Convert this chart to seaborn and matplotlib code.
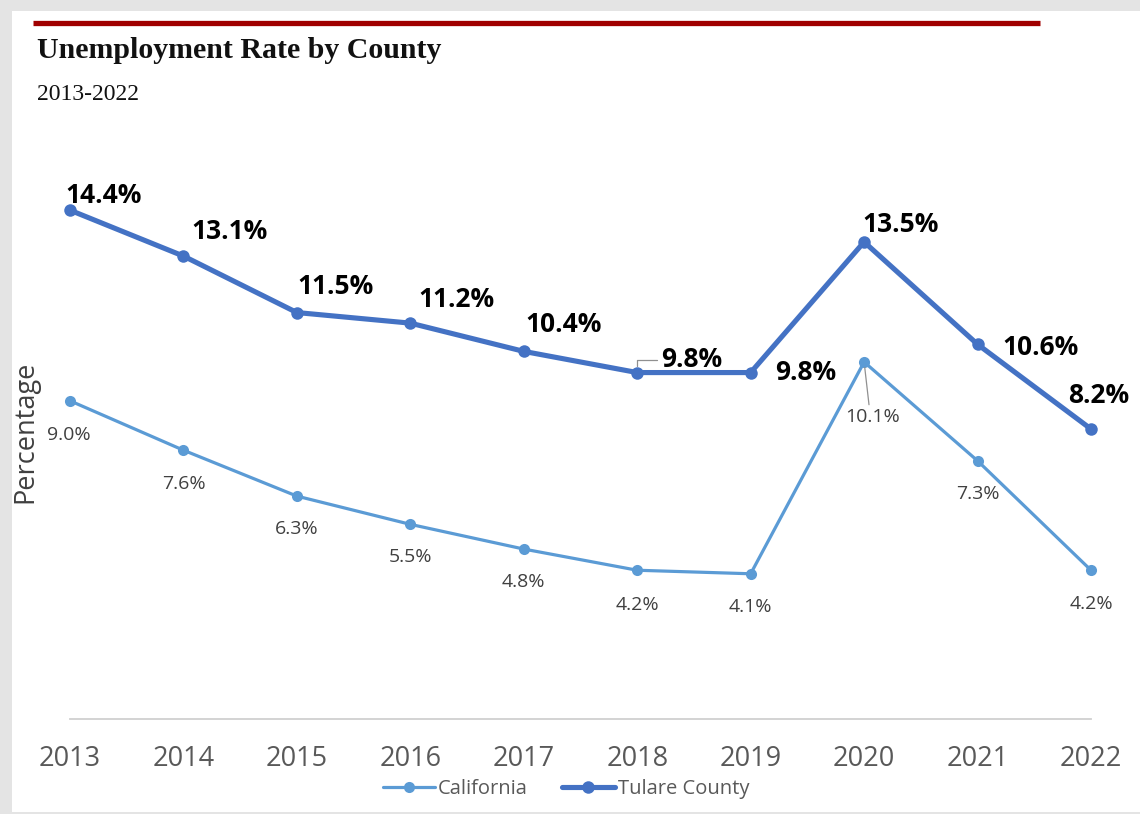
import matplotlib
matplotlib.use("Agg")
import matplotlib.pyplot as plt
import seaborn as sns
import pandas as pd
from matplotlib.patches import Rectangle
from matplotlib.lines import Line2D

years = [2013, 2014, 2015, 2016, 2017, 2018, 2019, 2020, 2021, 2022]
california = [9.0, 7.6, 6.3, 5.5, 4.8, 4.2, 4.1, 10.1, 7.3, 4.2]
tulare = [14.4, 13.1, 11.5, 11.2, 10.4, 9.8, 9.8, 13.5, 10.6, 8.2]
title = "Unemployment Rate by County"
subtitle = "2013-2022"

# label offsets in pixels (layout only)
tul_off = [(34, 15), (46, 25), (39, 26), (46, 24), (40, 27), (54, 13), (55, 0), (36, 17), (63, -3), (8, 34)]
cal_off = [(-1, -34), (0, -34), (0, -33), (0, -33), (0, -33), (0, -35), (0, -33), (8, -55), (0, -33), (0, -34)]

sns.set_theme(style="white")
plt.rcParams['font.family'] = ['Open Sans', 'DejaVu Sans']

W, H = 1140, 814
fig = plt.figure(figsize=(W / 100, H / 100), dpi=100)
fig.patch.set_facecolor('#E4E4E4')
bg = Rectangle((12 / W, 1 - 812 / H), (1140 - 12) / W, (812 - 11) / H,
               transform=fig.transFigure, facecolor='white', edgecolor='none', zorder=-10)
fig.patches.append(bg)
# dark red rule
fig.lines.append(Line2D([33 / W, 1040 / W], [1 - 23 / H, 1 - 23 / H], transform=fig.transFigure,
                        color='#A00000', lw=3.8, solid_capstyle='butt', zorder=-5))

ax_left, ax_right = 70 / W, 1091 / W
y0 = 718.5
ppu = 35.3
ymax = 16
ax = fig.add_axes([ax_left, 1 - y0 / H, ax_right - ax_left, ymax * ppu / H])
ax.set_facecolor('none')
ax.patch.set_alpha(0)

df = pd.DataFrame({
    'Year': years * 2,
    'Rate': california + tulare,
    'Series': ['California'] * len(years) + ['Tulare County'] * len(years),
})
cal_color = '#5B9BD5'
tul_color = '#4472C4'
sns.lineplot(data=df[df.Series == 'California'], x='Year', y='Rate', ax=ax, color=cal_color,
             lw=2.3, marker='o', markersize=8, markeredgewidth=0, clip_on=False, legend=False)
sns.lineplot(data=df[df.Series == 'Tulare County'], x='Year', y='Rate', ax=ax, color=tul_color,
             lw=3.7, marker='o', markersize=9, markeredgewidth=0, clip_on=False, legend=False)

ax.set_xlim(years[0], years[-1])
ax.set_ylim(0, ymax)
ax.set_xticks(years)
ax.set_xticklabels([str(y) for y in years], fontsize=19.5, color='#595959')
ax.tick_params(axis='x', length=0, pad=19)
ax.set_yticks([])
ax.set_xlabel('')
ax.set_ylabel('')
for s in ['left', 'right', 'top']:
    ax.spines[s].set_visible(False)
ax.spines['bottom'].set_color('#D0D0D0')
ax.spines['bottom'].set_linewidth(1.3)

for i, (x, v) in enumerate(zip(years, tulare)):
    dx, dy = tul_off[i]
    kw = {}
    if i == 5:
        kw['arrowprops'] = dict(arrowstyle='-', color='#909090', lw=0.9, shrinkA=0, shrinkB=5,
                                connectionstyle='angle,angleA=0,angleB=90,rad=0',
                                relpos=(0, 0.5))
    ax.annotate(f"{v:.1f}%", (x, v), xytext=(dx, dy), textcoords='offset pixels',
                ha='center', va='center', fontsize=19, fontweight='bold', color='black',
                annotation_clip=False, **kw)

for i, (x, v) in enumerate(zip(years, california)):
    dx, dy = cal_off[i]
    kw = {}
    if i == 7:
        kw['arrowprops'] = dict(arrowstyle='-', color='#909090', lw=0.9, shrinkA=0, shrinkB=4,
                                relpos=(0.45, 1.0))
    ax.annotate(f"{v:.1f}%", (x, v), xytext=(dx, dy), textcoords='offset pixels',
                ha='center', va='center', fontsize=14, color='#404040',
                annotation_clip=False, **kw)

fig.text(37 / W, 1 - 58 / H, title, family='Liberation Serif', fontweight='bold',
         fontsize=21.5, color='#111111', va='baseline', ha='left')
fig.text(37 / W, 1 - 100 / H, subtitle, family='Liberation Serif', fontsize=17,
         color='#111111', va='baseline', ha='left')
fig.text(25 / W, 1 - 432 / H, 'Percentage', rotation=90, fontsize=19.5, color='#404040',
         ha='center', va='center')

handles = [Line2D([], [], color=cal_color, lw=2.3, marker='o', markersize=8, markeredgewidth=0),
           Line2D([], [], color=tul_color, lw=3.7, marker='o', markersize=9, markeredgewidth=0)]
fig.legend(handles, ['California', 'Tulare County'], loc='center', ncol=2, frameon=False,
           bbox_to_anchor=(566 / W, 1 - 789 / H), fontsize=14.5, handlelength=2.6,
           handletextpad=0.15, columnspacing=1.7, labelcolor='#595959')

fig.savefig('out.png', dpi=100, facecolor=fig.get_facecolor())
